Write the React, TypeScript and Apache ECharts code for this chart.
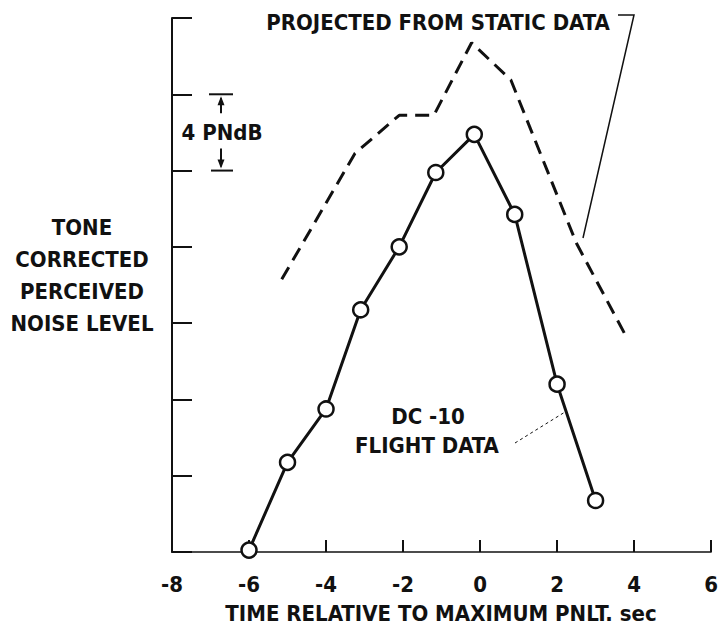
import React, { useEffect, useRef } from "react";
import * as echarts from "echarts";

// Flight data (circles, solid line)
const flightTime = [-6, -5, -4, -3.1, -2.1, -1.15, -0.15, 0.9, 2, 3];
const flightLevel = [0.1, 4.7, 7.5, 12.7, 16.0, 19.9, 21.9, 17.7, 8.8, 2.7];
// Projected from static data (dashed line)
const staticTime = [-5.15, -3.25, -2.1, -1.2, -0.22, 0.8, 2.5, 3.82];
const staticLevel = [14.3, 20.9, 22.9, 22.9, 26.7, 24.75, 16.2, 11.2];

const X_MIN = -8;
const X_MAX = 6;
const X_STEP = 2;
const Y_MIN = 0;
const Y_MAX = 28;
const Y_STEP = 4;

const yTitleLines = ["TONE", "CORRECTED", "PERCEIVED", "NOISE LEVEL"];
const xTitle = "TIME RELATIVE TO MAXIMUM PNLT. sec";
const staticLabel = "PROJECTED FROM STATIC DATA";
const flightLabel = ["DC -10", "FLIGHT DATA"];
const bracketLabel = "4 PNdB";

const FONT = "'DejaVu Sans Condensed', 'Liberation Sans Narrow', 'Roboto', sans-serif";
const INK = "#111";

export default function App() {
  const ref = useRef<HTMLDivElement>(null);
  useEffect(() => {
    if (!ref.current) return;
    const chart = echarts.init(ref.current, null, { renderer: "svg" });
    const textStyle = (extra: any) => ({
      fill: INK,
      fontFamily: FONT,
      fontSize: 22,
      fontWeight: "bold",
      textAlign: "center",
      textVerticalAlign: "middle",
      ...extra,
    });
    const option: any = {
      animation: false,
      backgroundColor: "#fff",
      grid: { left: 172, right: 4, top: 18, bottom: 77 },
      xAxis: {
        type: "value",
        min: X_MIN,
        max: X_MAX,
        interval: X_STEP,
        axisLine: { onZero: false, lineStyle: { color: INK, width: 1.5 } },
        axisTick: { inside: true, length: 12, lineStyle: { color: INK, width: 2 } },
        axisLabel: { color: INK, fontFamily: FONT, fontSize: 22, fontWeight: "bold", margin: 21 },
        splitLine: { show: false },
      },
      yAxis: {
        type: "value",
        min: Y_MIN,
        max: Y_MAX,
        interval: Y_STEP,
        axisLine: { show: true, onZero: false, lineStyle: { color: INK, width: 2 } },
        axisTick: { show: true, inside: true, length: 20, lineStyle: { color: INK, width: 2 } },
        axisLabel: { show: false },
        splitLine: { show: false },
      },
      series: [
        {
          type: "line",
          data: staticTime.map((t, i) => [t, staticLevel[i]]),
          showSymbol: false,
          lineStyle: { color: INK, width: 3, type: [14, 8] },
          z: 2,
        },
        {
          type: "line",
          data: flightTime.map((t, i) => [t, flightLevel[i]]),
          symbol: "circle",
          symbolSize: 15,
          itemStyle: { color: "#fff", borderColor: INK, borderWidth: 2.5 },
          lineStyle: { color: INK, width: 3 },
          z: 3,
        },
      ],
    };
    chart.setOption(option);

    const px = (x: number, y: number) => chart.convertToPixel({ gridIndex: 0 }, [x, y]) as number[];
    const top = px(X_MIN, 24);
    const bot = px(X_MIN, 20);
    const bx = 221;
    const graphics: any[] = [];
    // Y title
    yTitleLines.forEach((s, i) => {
      graphics.push({ type: "text", x: 82, y: 227 + i * 32, style: textStyle({ text: s }) });
    });
    // X title
    graphics.push({ type: "text", x: 441, y: 613, style: textStyle({ text: xTitle }) });
    // Projected label + leader
    graphics.push({ type: "text", x: 438, y: 22, style: textStyle({ text: staticLabel }) });
    graphics.push({
      type: "polyline",
      shape: { points: [[618, 15], [634, 15], [583, 238]] },
      style: { stroke: INK, lineWidth: 1.5, fill: null },
    });
    // DC-10 label + leader
    graphics.push({ type: "text", x: 428, y: 416, style: textStyle({ text: flightLabel[0] }) });
    graphics.push({ type: "text", x: 427, y: 445, style: textStyle({ text: flightLabel[1] }) });
    graphics.push({
      type: "line",
      shape: { x1: 515, y1: 443, x2: 565, y2: 412 },
      style: { stroke: INK, lineWidth: 1, lineDash: [3, 3] },
    });
    // 4 PNdB bracket
    const yT = top[1];
    const yB = bot[1];
    graphics.push({ type: "line", shape: { x1: bx - 12, y1: yT, x2: bx + 12, y2: yT }, style: { stroke: INK, lineWidth: 2 } });
    graphics.push({ type: "line", shape: { x1: bx - 10, y1: yB, x2: bx + 12, y2: yB }, style: { stroke: INK, lineWidth: 2 } });
    graphics.push({ type: "line", shape: { x1: bx, y1: yT + 4, x2: bx, y2: yT + 19 }, style: { stroke: INK, lineWidth: 2 } });
    graphics.push({ type: "polygon", shape: { points: [[bx, yT + 2], [bx - 3.5, yT + 11], [bx + 3.5, yT + 11]] }, style: { fill: INK } });
    graphics.push({ type: "line", shape: { x1: bx, y1: yB - 22, x2: bx, y2: yB - 4 }, style: { stroke: INK, lineWidth: 2 } });
    graphics.push({ type: "polygon", shape: { points: [[bx, yB - 2], [bx - 3.5, yB - 11], [bx + 3.5, yB - 11]] }, style: { fill: INK } });
    graphics.push({ type: "text", x: 222, y: (yT + yB) / 2, style: textStyle({ text: bracketLabel }) });

    chart.setOption({ graphic: graphics });
    return () => chart.dispose();
  }, []);
  return <div ref={ref} style={{ width: 721, height: 629, position: "absolute", left: 0, top: 0 }} />;
}
